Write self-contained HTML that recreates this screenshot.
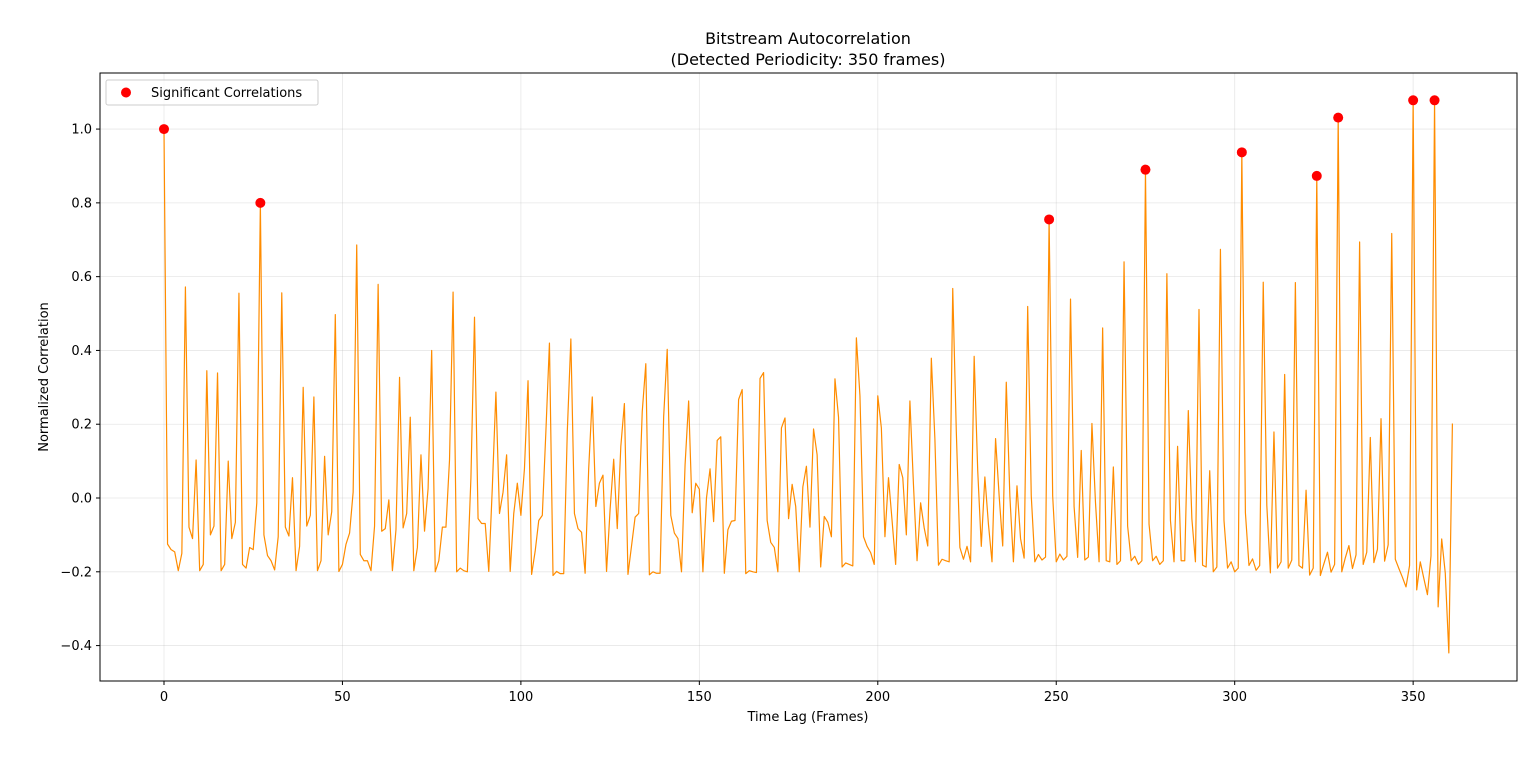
<!DOCTYPE html>
<html><head><meta charset="utf-8"><style>
body{margin:0;background:#fff;font-family:"Liberation Sans","DejaVu Sans",sans-serif;}
svg text{font-family:"DejaVu Sans","Liberation Sans",sans-serif;}
</style></head><body>
<svg id="chart" width="1536" height="754" viewBox="0 0 1536 754" xmlns="http://www.w3.org/2000/svg">
<rect width="1536" height="754" fill="#fff"/>
<g id="grid"></g>
<g id="series"></g>
<rect x="100" y="73" width="1417" height="608" fill="none" stroke="#000" stroke-width="1"/>
<g id="axes"></g>
<text x="808" y="44" text-anchor="middle" font-size="16">Bitstream Autocorrelation</text>
<text x="808" y="65" text-anchor="middle" font-size="16">(Detected Periodicity: 350 frames)</text>
<text x="808" y="721" text-anchor="middle" font-size="13">Time Lag (Frames)</text>
<text x="48" y="377" text-anchor="middle" font-size="13" transform="rotate(-90 48 377)">Normalized Correlation</text>
<g>
<rect x="106" y="80" width="212" height="25" rx="2" fill="#fff" fill-opacity="0.8" stroke="#ccc"/>
<circle cx="126" cy="92.5" r="5" fill="#f00"/>
<text x="151" y="97" font-size="13">Significant Correlations</text>
</g>
</svg>
<script>
const values=[1.0,-0.125,-0.14,-0.146,-0.197,-0.15,0.572,-0.079,-0.11,0.103,-0.197,-0.18,0.345,-0.10,-0.076,0.339,-0.197,-0.18,0.10,-0.11,-0.066,0.555,-0.18,-0.19,-0.134,-0.14,-0.013,0.80,-0.10,-0.156,-0.17,-0.195,-0.105,0.556,-0.079,-0.103,0.055,-0.197,-0.131,0.30,-0.076,-0.047,0.274,-0.197,-0.17,0.113,-0.10,-0.037,0.497,-0.199,
-0.18,-0.125,-0.095,0.016,0.686,-0.153,-0.17,-0.17,-0.197,-0.076,0.579,-0.09,-0.083,-0.005,-0.197,-0.086,0.327,-0.081,-0.042,0.219,-0.197,-0.134,0.117,-0.09,0.026,0.40,-0.20,-0.17,-0.079,-0.079,0.103,0.558,-0.20,-0.19,-0.197,-0.20,0.055,0.49,-0.056,-0.069,-0.069,-0.199,0.03,0.287,-0.042,0.016,0.117,-0.199,-0.042,0.04,
-0.047,0.08,0.318,-0.207,-0.144,-0.061,-0.047,0.18,0.42,-0.21,-0.199,-0.205,-0.205,0.18,0.431,-0.042,-0.083,-0.093,-0.204,0.08,0.274,-0.023,0.04,0.062,-0.199,-0.03,0.105,-0.083,0.14,0.256,-0.207,-0.13,-0.052,-0.042,0.234,0.364,-0.208,-0.20,-0.204,-0.204,0.22,0.403,-0.047,-0.095,-0.11,-0.20,0.09,0.263,-0.04,0.04,
0.024,-0.20,0.0,0.079,-0.064,0.156,0.166,-0.204,-0.086,-0.063,-0.061,0.267,0.294,-0.205,-0.197,-0.20,-0.202,0.324,0.34,-0.061,-0.12,-0.134,-0.20,0.19,0.217,-0.056,0.037,-0.023,-0.20,0.03,0.086,-0.079,0.187,0.117,-0.187,-0.05,-0.066,-0.105,0.323,0.219,-0.187,-0.176,-0.18,-0.184,0.434,0.277,-0.105,-0.131,-0.148,-0.18,
0.277,0.19,-0.105,0.055,-0.061,-0.18,0.091,0.055,-0.10,0.263,0.035,-0.17,-0.013,-0.081,-0.13,0.379,0.16,-0.182,-0.166,-0.17,-0.173,0.568,0.18,-0.134,-0.166,-0.131,-0.173,0.384,0.074,-0.131,0.057,-0.071,-0.173,0.161,0.006,-0.13,0.314,0.006,-0.173,0.033,-0.11,-0.163,0.519,0.006,-0.173,-0.153,-0.168,-0.16,0.755,0.006,
-0.173,-0.152,-0.168,-0.158,0.539,-0.023,-0.161,0.129,-0.168,-0.16,0.202,-0.013,-0.173,0.461,-0.17,-0.173,0.084,-0.18,-0.17,0.64,-0.076,-0.17,-0.158,-0.18,-0.17,0.89,-0.071,-0.17,-0.158,-0.18,-0.17,0.608,-0.061,-0.173,0.14,-0.17,-0.17,0.237,-0.056,-0.173,0.511,-0.182,-0.187,0.074,-0.20,-0.187,0.674,-0.061,-0.19,-0.173,
-0.20,-0.19,0.937,-0.04,-0.183,-0.165,-0.196,-0.183,0.585,-0.02,-0.203,0.179,-0.19,-0.173,0.335,-0.19,-0.168,0.584,-0.183,-0.19,0.021,-0.209,-0.19,0.873,-0.21,-0.178,-0.147,-0.201,-0.18,1.031,-0.2,-0.162,-0.129,-0.191,-0.154,0.694,-0.18,-0.147,0.164,-0.175,-0.139,0.215,-0.171,-0.127,0.717,-0.166,-0.191,-0.215,-0.241,-0.183,
1.078,-0.249,-0.173,-0.218,-0.262,-0.157,1.078,-0.295,-0.111,-0.203,-0.42,0.202];
const sigLags=[0,27,248,275,302,323,329,350,356];
const xTicks=[0,50,100,150,200,250,300,350];
const yTicks=[-0.4,-0.2,0.0,0.2,0.4,0.6,0.8,1.0];
const yTickLabels=["\u22120.4","\u22120.2","0.0","0.2","0.4","0.6","0.8","1.0"];

const X0=100,X1=1517,Y0=73,Y1=681;
const xMin=-17.93,xMax=379.1,yMin=-0.496,yMax=1.152;
function sx(v){return X0+(v-xMin)/(xMax-xMin)*(X1-X0);}
function sy(v){return Y1-(v-yMin)/(yMax-yMin)*(Y1-Y0);}
const NS="http://www.w3.org/2000/svg";
function mk(tag,attrs,parent){const e=document.createElementNS(NS,tag);for(const k in attrs)e.setAttribute(k,attrs[k]);parent.appendChild(e);return e;}
const grid=document.getElementById('grid'),axes=document.getElementById('axes'),series=document.getElementById('series');
xTicks.forEach(t=>{const x=sx(t);
 const g=mk('line',{x1:x,x2:x,y1:Y0,y2:Y1,stroke:'#b0b0b0','stroke-opacity':0.3,'stroke-width':0.8},grid);
 
 
 const tk=mk('line',{x1:x,x2:x,y1:Y1,y2:Y1+4,stroke:'#000'},axes);
 
 
 const tx=mk('text',{x:x,y:Y1+20,'text-anchor':'middle','font-size':13},axes);
 
 
 tx.textContent=String(t);});
yTicks.forEach((t,i)=>{const y=sy(t);
 const g=mk('line',{x1:X0,x2:X1,y1:y,y2:y,stroke:'#b0b0b0','stroke-opacity':0.3,'stroke-width':0.8},grid);
 
 
 const tk=mk('line',{x1:X0-4,x2:X0,y1:y,y2:y,stroke:'#000'},axes);
 
 
 const tx=mk('text',{x:X0-8,y:y+4.5,'text-anchor':'end','font-size':13},axes);
 
 
 tx.textContent=yTickLabels[i];});
const pts=values.map((v,i)=>sx(i).toFixed(2)+','+sy(v).toFixed(2)).join(' ');
const line=mk('polyline',{points:pts,fill:'none',stroke:'#ff8c00','stroke-width':1.2,'stroke-linejoin':'round'},series);


sigLags.forEach(l=>{const c=mk('circle',{cx:sx(l),cy:sy(values[l]),r:5,fill:'#f00'},series);
 
 });
</script>
</body></html>
